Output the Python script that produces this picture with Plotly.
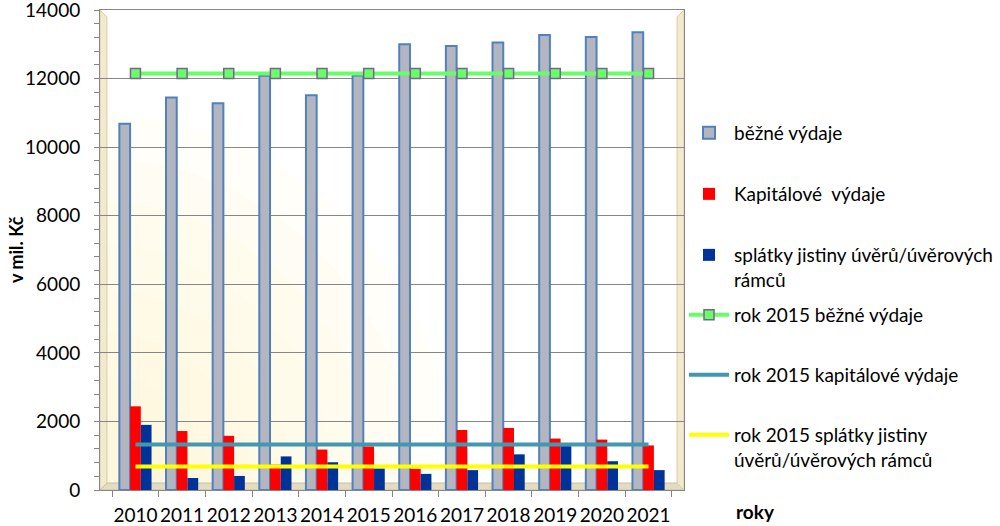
import plotly.graph_objects as go

years = ["2010", "2011", "2012", "2013", "2014", "2015",
         "2016", "2017", "2018", "2019", "2020", "2021"]
bezne_vydaje = [10680, 11450, 11280, 12080, 11510, 12090,
                13000, 12950, 13050, 13270, 13210, 13350]
kapitalove_vydaje = [2440, 1720, 1580, 740, 1180, 1270,
                     620, 1750, 1810, 1500, 1470, 1300]
splatky_jistiny = [1900, 350, 410, 980, 810, 630,
                   470, 580, 1040, 1280, 840, 580]
rok2015_bezne = [12150, 12150, 12150, 12150, 12150, 12150,
                 12150, 12150, 12150, 12150, 12150, 12150]
rok2015_kapitalove = [1330, 1330, 1330, 1330, 1330, 1330,
                      1330, 1330, 1330, 1330, 1330, 1330]
rok2015_splatky = [685, 685, 685, 685, 685, 685,
                   685, 685, 685, 685, 685, 685]

FONT = "Lato, Carlito, Calibri, sans-serif"
GRID = "#868686"
FS = 19

fig = go.Figure()
fig.add_trace(go.Bar(
    x=years, y=bezne_vydaje, name="běžné výdaje",
    marker=dict(color="#b3b6c1", line=dict(color="#4f81bd", width=2)),
    legend="legend"))
fig.add_trace(go.Bar(
    x=years, y=kapitalove_vydaje, name="Kapitálové&nbsp; výdaje",
    marker=dict(color="#ff0000", line=dict(width=0)), legend="legend2"))
fig.add_trace(go.Bar(
    x=years, y=splatky_jistiny, name="splátky jistiny úvěrů/úvěrových<br>rámců",
    marker=dict(color="#003399", line=dict(width=0)), legend="legend3"))
fig.add_trace(go.Scatter(
    x=years, y=rok2015_bezne, name="rok 2015 běžné výdaje", mode="lines+markers",
    line=dict(color="#66ff66", width=4),
    marker=dict(symbol="square", size=10, color="#66ff66",
                line=dict(color="#7f6094", width=1.5)),
    legend="legend4"))
fig.add_trace(go.Scatter(
    x=years, y=rok2015_kapitalove, name="rok 2015 kapitálové výdaje", mode="lines",
    line=dict(color="#4198af", width=4), legend="legend5"))
fig.add_trace(go.Scatter(
    x=years, y=rok2015_splatky, name="rok 2015 splátky jistiny<br>úvěrů/úvěrových rámců",
    mode="lines", line=dict(color="#ffff00", width=4), legend="legend6"))

def leg(center_px):
    return dict(xref="container", yref="container", x=0.684,
                y=1 - (center_px - 19) / 526, xanchor="left", yanchor="top",
                bgcolor="rgba(0,0,0,0)", borderwidth=0, valign="top",
                itemwidth=40, font=dict(family=FONT, size=FS, color="black"))

shapes = []
# soft yellow glow in the lower-left corner of the back wall
k = 0.5523
for i in range(8):
    rx = 0.12 + 0.07 * i
    ry = 0.15 + 0.09 * i
    path = (f"M 0,0 L 0,{ry:.4f} C {k*rx:.4f},{ry:.4f} {rx:.4f},{k*ry:.4f} {rx:.4f},0 Z")
    shapes.append(dict(type="path", xref="paper", yref="paper", path=path,
                       fillcolor="#fff8d0", opacity=0.12, line=dict(width=0),
                       layer="below"))
dx, dy = 0.0118, 0.0145
# left wall
shapes.append(dict(type="path", xref="paper", yref="paper",
                   path=f"M 0,1 L {dx},{1-dy} L {dx},{dy} L 0,0 Z",
                   fillcolor="#f1eace", line=dict(color="#d8cca4", width=1),
                   layer="between"))
# floor
shapes.append(dict(type="path", xref="paper", yref="paper",
                   path=f"M 0,0 L {dx},{dy} L {1-dx},{dy} L 1,0 Z",
                   fillcolor="#e4dcc2", line=dict(color="#c9bf9f", width=1),
                   layer="between"))
# right wall
shapes.append(dict(type="path", xref="paper", yref="paper",
                   path=f"M {1-dx},{1-dy} L 1,1 L 1,0 L {1-dx},{dy} Z",
                   fillcolor="#f1eace", line=dict(color="#d8cca4", width=1),
                   layer="between"))

fig.update_layout(
    width=1000, height=526,
    margin=dict(l=100, r=292, t=10, b=36),
    barmode="group", bargap=0.31, bargroupgap=0,
    plot_bgcolor="white", paper_bgcolor="white",
    font=dict(family=FONT, size=FS, color="black"),
    showlegend=True,
    shapes=shapes,
    xaxis=dict(type="category", tickson="boundaries", ticks="outside",
               ticklen=6, tickcolor=GRID, showline=True, linecolor=GRID,
               linewidth=1, mirror=True, showgrid=False, tickangle=0,
               automargin=False, ticklabelstandoff=8,
               tickfont=dict(family=FONT, size=FS, color="black")),
    yaxis=dict(range=[0, 14000], dtick=2000, tickformat="d",
               gridcolor=GRID, gridwidth=1, showline=True, linecolor=GRID,
               mirror=True, ticks="outside", ticklen=5, tickcolor=GRID,
               ticklabelstandoff=10, zeroline=False, automargin=False,
               ticklabeloverflow="allow",
               minor=dict(dtick=400, ticks="outside", ticklen=5,
                          tickcolor=GRID, showgrid=False),
               tickfont=dict(family=FONT, size=FS, color="black")),
    legend=leg(133), legend2=leg(194), legend3=leg(255),
    legend4=leg(315), legend5=leg(375), legend6=leg(435),
    annotations=[
        dict(text="<b>v mil. Kč</b>", xref="paper", yref="paper",
             x=-0.1447, y=0.501, textangle=-90, showarrow=False,
             xanchor="center", yanchor="middle",
             font=dict(family=FONT, size=18, color="black")),
        dict(text="<b>roky</b>", xref="paper", yref="paper",
             x=1.1217, y=-0.0455, showarrow=False,
             xanchor="center", yanchor="middle",
             font=dict(family=FONT, size=FS, color="black")),
    ],
)

fig.write_html("out.html")
